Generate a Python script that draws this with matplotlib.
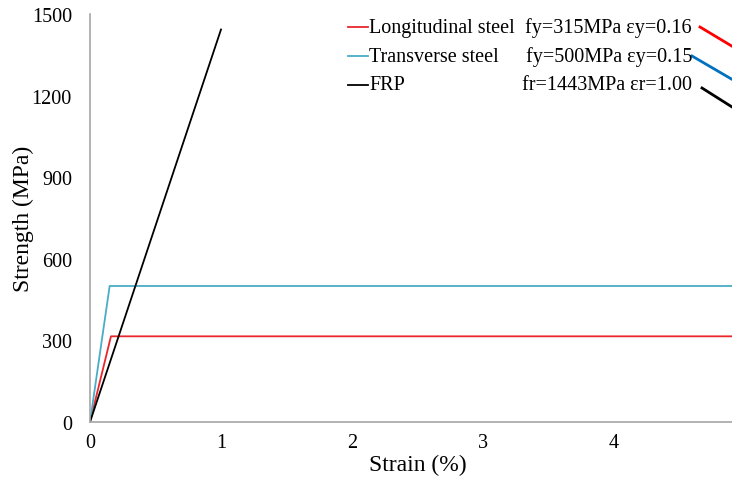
import matplotlib.pyplot as plt
from matplotlib.lines import Line2D

plt.rcParams['font.family'] = ['Liberation Serif', 'DejaVu Serif']

# stress-strain curves (strain in %, stress in MPa)
long_strain = [0, 0.16, 5]
long_stress = [0, 315, 315]
trans_strain = [0, 0.15, 5]
trans_stress = [0, 500, 500]
frp_strain = [0, 1.00]
frp_stress = [0, 1443]

names = ["Longitudinal steel", "Transverse steel", "FRP"]
props = ["fy=315MPa εy=0.16", "fy=500MPa εy=0.15", "fr=1443MPa εr=1.00"]
colors = ["#E8272C", "#4BACC6", "#000000"]
leader_colors = ["#FF0000", "#0070C0", "#000000"]

fig = plt.figure(figsize=(7.32, 4.85), dpi=100)
W, H = 732, 485
# plot area runs past the right edge of the figure
ax = fig.add_axes([90 / W, 1 - 423 / H, (745 - 90) / W, (423 - 15) / H])

ax.plot(long_strain, long_stress, color=colors[0], lw=1.3)
ax.plot(trans_strain, trans_stress, color=colors[1], lw=1.3)
ax.plot(frp_strain, frp_stress, color=colors[2], lw=1.3)

ax.set_xlim(0, 5)
ax.set_ylim(0, 1500)
ax.set_xticks([0, 1, 2, 3, 4, 5])
ax.set_yticks([0, 300, 600, 900, 1200, 1500])
ax.tick_params(length=0, labelsize=14.5)
ax.tick_params(axis="y", pad=13)
ax.tick_params(axis="x", pad=8)
for s in ["top", "right"]:
    ax.spines[s].set_visible(False)
for s in ["left", "bottom"]:
    ax.spines[s].set_color("#A6A6A6")
    ax.spines[s].set_linewidth(1.2)

fig.text(418 / W, 1 - 465 / H, "Strain (%)", fontsize=17, ha="center", va="center")
fig.text(23 / W, 1 - 219 / H, "Strength (MPa)", fontsize=17, ha="center",
         va="center", rotation=90)

# legend rows
rows_y = [28, 57, 86]
for name, prop, c, y in zip(names, props, colors, rows_y):
    fig.add_artist(Line2D([348 / W, 368 / W], [1 - y / H, 1 - y / H],
                          color=c, lw=1.3))
    fig.text(369 / W, 1 - y / H, name, fontsize=14.5, ha="left", va="center")
    fig.text(692 / W, 1 - y / H, prop, fontsize=14.5, ha="right", va="center")

# leader lines from the legend entries
leaders = [((700, 28), (740, 52)), ((692, 57), (740, 85)), ((702, 89), (740, 113))]
for (p0, p1), c in zip(leaders, leader_colors):
    fig.add_artist(Line2D([p0[0] / W, p1[0] / W], [1 - p0[1] / H, 1 - p1[1] / H],
                          color=c, lw=2))

fig.savefig("out.png", dpi=100)
